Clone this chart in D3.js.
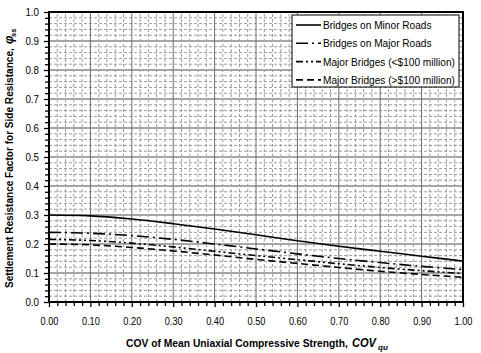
<!DOCTYPE html>
<html>
<head>
<meta charset="utf-8">
<script src="https://cdn.jsdelivr.net/npm/d3@7"></script>
<style>
  body { margin: 0; background: #fff; }
  svg { display: block; }
  text { font-family: 'Liberation Sans', Arial, sans-serif; }
</style>
</head>
<body>
<script>
// COV of mean uniaxial compressive strength
const cov = [0, 0.1, 0.2, 0.3, 0.4, 0.5, 0.6, 0.7, 0.8, 0.9, 1.0];
// settlement resistance factor
const minorRoads = [0.300, 0.297, 0.286, 0.270, 0.252, 0.232, 0.211, 0.192, 0.175, 0.158, 0.141];
const majorRoads = [0.240, 0.237, 0.229, 0.216, 0.200, 0.183, 0.166, 0.150, 0.136, 0.123, 0.112];
const majorUnder100 = [0.216, 0.212, 0.203, 0.190, 0.175, 0.160, 0.146, 0.132, 0.119, 0.108, 0.098];
const majorOver100 = [0.200, 0.197, 0.188, 0.176, 0.162, 0.147, 0.133, 0.119, 0.106, 0.095, 0.085];

const seriesNames = ["Bridges on Minor Roads", "Bridges on Major Roads",
  "Major Bridges (<$100 million)", "Major Bridges (>$100 million)"];
const seriesValues = [minorRoads, majorRoads, majorUnder100, majorOver100];
const dashes = [null, "12,4,2,4", "7,3,2,3,2,3", "7,4"];

const xTicks = d3.range(0, 1.0001, 0.1);
const yTicks = d3.range(0, 1.0001, 0.1);

const w = 481, h = 353;
const margin = {top: 12, right: 18, bottom: 51, left: 49};

const x = d3.scaleLinear().domain([0, 1]).range([margin.left, w - margin.right]);
const y = d3.scaleLinear().domain([0, 1]).range([h - margin.bottom, margin.top]);

const svg = d3.select("body").append("svg")
  .attr("width", w)
  .attr("height", h);

// narrow font is not installed, squeeze the glyphs instead
function condense(sel, k) {
  sel.each(function () {
    const len = this.getComputedTextLength();
    d3.select(this).attr("textLength", len * k).attr("lengthAdjust", "spacingAndGlyphs");
  });
}

const minor = d3.range(0, 1.0001, 0.02).filter(v => Math.abs(v * 10 - Math.round(v * 10)) > 0.01);

// minor dashed grid
svg.append("g").selectAll("line").data(minor).join("line")
  .attr("x1", d => x(d)).attr("x2", d => x(d))
  .attr("y1", y(0)).attr("y2", y(1))
  .attr("stroke", "#9c9c9c").attr("stroke-width", 1).attr("stroke-dasharray", "3,2");
svg.append("g").selectAll("line").data(minor).join("line")
  .attr("x1", x(0)).attr("x2", x(1))
  .attr("y1", d => y(d)).attr("y2", d => y(d))
  .attr("stroke", "#9c9c9c").attr("stroke-width", 1).attr("stroke-dasharray", "3,2");

// major grid
svg.append("g").selectAll("line").data(yTicks).join("line")
  .attr("x1", x(0)).attr("x2", x(1))
  .attr("y1", d => y(d)).attr("y2", d => y(d))
  .attr("stroke", "#a6a6a6").attr("stroke-width", 2);
svg.append("g").selectAll("line").data(xTicks).join("line")
  .attr("x1", d => x(d)).attr("x2", d => x(d))
  .attr("y1", y(0)).attr("y2", y(1))
  .attr("stroke", "#6e6e6e").attr("stroke-width", 1);

// axes
const yAxis = d3.axisLeft(y).tickValues(yTicks).tickSize(5).tickPadding(5).tickFormat(d3.format(".1f"));
const xAxis = d3.axisBottom(x).tickValues(xTicks).tickSize(5).tickPadding(10).tickFormat(d3.format(".2f"));

svg.append("g")
  .attr("transform", "translate(" + margin.left + ",0)")
  .call(yAxis)
  .call(g => g.select(".domain").remove())
  .call(g => g.selectAll("text").attr("font-size", 11.5).attr("fill", "#000").attr("font-family", null).call(condense, 0.85));
svg.append("g")
  .attr("transform", "translate(" + margin.left + ",0)")
  .call(d3.axisLeft(y).tickValues(minor).tickSize(4).tickFormat(""))
  .call(g => g.select(".domain").remove());

svg.append("g")
  .attr("transform", "translate(0," + (h - margin.bottom) + ")")
  .call(xAxis)
  .call(g => g.select(".domain").remove())
  .call(g => g.selectAll("text").attr("font-size", 11.5).attr("fill", "#000").attr("font-family", null).call(condense, 0.8));
svg.append("g")
  .attr("transform", "translate(0," + (h - margin.bottom) + ")")
  .call(d3.axisBottom(x).tickValues(minor).tickSize(4).tickFormat(""))
  .call(g => g.select(".domain").remove());

svg.selectAll(".tick line").attr("stroke", "#000").attr("stroke-width", 1.3);

// series
const line = d3.line()
  .x((d, i) => x(cov[i]))
  .y(d => y(d))
  .curve(d3.curveMonotoneX);

svg.append("g").selectAll("path").data(seriesValues).join("path")
  .attr("d", d => line(d))
  .attr("fill", "none")
  .attr("stroke", "#000")
  .attr("stroke-width", 1.6)
  .attr("stroke-dasharray", (d, i) => dashes[i]);

// frame
svg.append("rect")
  .attr("x", x(0)).attr("y", y(1))
  .attr("width", x(1) - x(0)).attr("height", y(0) - y(1))
  .attr("fill", "none").attr("stroke", "#000").attr("stroke-width", 2);

// legend
const lg = svg.append("g");
lg.append("rect")
  .attr("x", 292).attr("y", 15).attr("width", 167).attr("height", 72)
  .attr("fill", "#fff").attr("stroke", "#000").attr("stroke-width", 1);
const rows = lg.selectAll("g.row").data(seriesNames).join("g")
  .attr("class", "row")
  .attr("transform", (d, i) => "translate(296," + (25 + i * 18.3) + ")");
rows.append("line")
  .attr("x1", 0).attr("x2", 25)
  .attr("stroke", "#000").attr("stroke-width", 1.6)
  .attr("stroke-dasharray", (d, i) => dashes[i]);
rows.append("text")
  .attr("x", 27).attr("dy", "0.35em")
  .attr("font-size", 11.5)
  .text(d => d)
  .call(condense, 0.88);

// axis titles: squeezed with a scale so the box matches the ink
function squeeze(sel, tx, ty, width, rot) {
  const len = sel.node().getComputedTextLength();
  sel.attr("transform", "translate(" + tx + "," + ty + ")" + (rot ? " rotate(" + rot + ")" : "") +
    " scale(" + (width / len) + ",1)");
}

svg.append("text")
  .attr("font-size", 11.5).attr("font-weight", "bold")
  .text("COV of Mean Uniaxial Compressive Strength,")
  .call(squeeze, 126, 347, 222);
svg.append("text")
  .attr("font-family", "'Liberation Serif', 'Times New Roman', serif")
  .attr("font-style", "italic").attr("font-weight", "bold").attr("font-size", 13)
  .text("COV")
  .call(squeeze, 352, 347, 24);
svg.append("text")
  .attr("x", 378).attr("y", 350)
  .attr("font-family", "'Liberation Serif', 'Times New Roman', serif")
  .attr("font-style", "italic").attr("font-weight", "bold").attr("font-size", 8)
  .text("qu");

svg.append("text")
  .attr("font-size", 11.5).attr("font-weight", "bold")
  .text("Settlement Resistance Factor for Side Resistance,")
  .call(squeeze, 13, 288, 240, -90);
svg.append("text")
  .attr("transform", "translate(13,44) rotate(-90)")
  .attr("font-family", "'Liberation Serif', 'Times New Roman', serif")
  .attr("font-style", "italic").attr("font-weight", "bold").attr("font-size", 12)
  .text("φ");
svg.append("text")
  .attr("transform", "translate(16,37) rotate(-90)")
  .attr("font-family", "'Liberation Serif', 'Times New Roman', serif")
  .attr("font-style", "italic").attr("font-weight", "bold").attr("font-size", 7.5)
  .text("ss");
</script>
</body>
</html>
